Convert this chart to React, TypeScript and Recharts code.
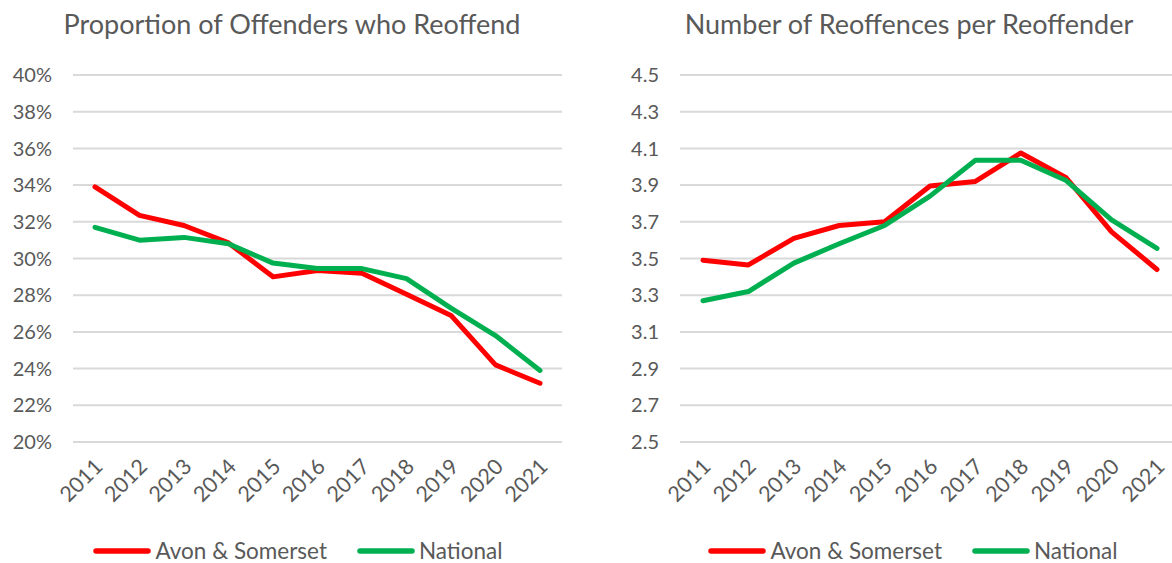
import React from "react";
import { LineChart, Line, XAxis, YAxis, CartesianGrid } from "recharts";

const years = ["2011", "2012", "2013", "2014", "2015", "2016", "2017", "2018", "2019", "2020", "2021"];
const propAvon = [33.9, 32.35, 31.8, 30.85, 29.0, 29.35, 29.2, 28.05, 26.9, 24.2, 23.2];
const propNational = [31.7, 31.0, 31.15, 30.8, 29.75, 29.45, 29.45, 28.9, 27.3, 25.8, 23.9];
const numAvon = [3.49, 3.465, 3.61, 3.68, 3.7, 3.895, 3.92, 4.075, 3.94, 3.645, 3.44];
const numNational = [3.27, 3.32, 3.475, 3.58, 3.68, 3.84, 4.035, 4.035, 3.925, 3.71, 3.555];
const leftTicks = [20, 22, 24, 26, 28, 30, 32, 34, 36, 38, 40];
const rightTicks = [2.5, 2.7, 2.9, 3.1, 3.3, 3.5, 3.7, 3.9, 4.1, 4.3, 4.5];
const leftTitle = "Proportion of Offenders who Reoffend";
const rightTitle = "Number of Reoffences per Reoffender";
const seriesNames = ["Avon & Somerset", "National"];

const RED = "#FF0000";
const GREEN = "#00B050";
const TEXT = "#595959";
const FONT = "Lato, 'Noto Sans', sans-serif";

const leftData = years.map((y, i) => ({ year: y, avon: propAvon[i], national: propNational[i] }));
const rightData = years.map((y, i) => ({ year: y, avon: numAvon[i], national: numNational[i] }));

const RotTick = (props: any) => {
  const { x, y, payload } = props;
  const ex = x + 9;
  const ey = y + 26;
  return (
    <text
      x={ex}
      y={ey}
      transform={`rotate(-45, ${ex}, ${ey})`}
      textAnchor="end"
      fill={TEXT}
      fontSize={21.5}
      fontFamily={FONT}
    >
      {payload.value}
    </text>
  );
};

const LegendBlock = (props: { center: number }) => (
  <div
    style={{
      position: "absolute",
      top: 540,
      left: props.center - 300,
      width: 600,
      height: 22,
      display: "flex",
      justifyContent: "center",
      alignItems: "center",
      fontFamily: FONT,
      fontSize: 22.5,
      lineHeight: "22px",
      color: TEXT,
      whiteSpace: "nowrap",
    }}
  >
    {[RED, GREEN].map((c, i) => (
      <div key={i} style={{ display: "flex", alignItems: "center", marginLeft: i ? 30 : 0 }}>
        <svg width={58} height={10} style={{ marginRight: 4 }}>
          <line x1={3} y1={5} x2={55} y2={5} stroke={c} strokeWidth={5.5} strokeLinecap="round" />
        </svg>
        <span>{seriesNames[i]}</span>
      </div>
    ))}
  </div>
);

const Panel = (props: {
  data: any[];
  ticks: number[];
  domain: [number, number];
  fmt: (v: number) => string;
  yWidth: number;
  width: number;
  rightMargin: number;
  pad: number;
}) => (
  <LineChart
    width={props.width}
    height={563}
    data={props.data}
    margin={{ top: 75, right: props.rightMargin, bottom: 0, left: 0 }}
  >
    <CartesianGrid vertical={false} stroke="#D9D9D9" strokeWidth={2} />
    <XAxis
      dataKey="year"
      scale="point"
      padding={{ left: props.pad, right: props.pad }}
      height={121}
      axisLine={false}
      tickLine={false}
      tickSize={0}
      tickMargin={0}
      interval={0}
      tick={<RotTick />}
    />
    <YAxis
      domain={props.domain}
      ticks={props.ticks}
      width={props.yWidth}
      axisLine={false}
      tickLine={false}
      tickSize={0}
      tickMargin={21}
      tickFormatter={props.fmt}
      tick={{ fill: TEXT, fontSize: 20, fontFamily: FONT }}
      interval={0}
    />
    <Line
      dataKey="avon"
      name={seriesNames[0]}
      stroke={RED}
      strokeWidth={5}
      dot={false}
      strokeLinejoin="round"
      strokeLinecap="round"
      isAnimationActive={false}
    />
    <Line
      dataKey="national"
      name={seriesNames[1]}
      stroke={GREEN}
      strokeWidth={5}
      dot={false}
      strokeLinejoin="round"
      strokeLinecap="round"
      isAnimationActive={false}
    />
  </LineChart>
);

const titleStyle = (center: number): React.CSSProperties => ({
  position: "absolute",
  top: 7,
  left: center - 300,
  width: 600,
  textAlign: "center",
  fontFamily: FONT,
  fontSize: 27,
  color: TEXT,
  lineHeight: "34px",
  whiteSpace: "nowrap",
});

export default function App() {
  return (
    <div
      style={{
        position: "fixed",
        left: 0,
        top: 0,
        width: 1172,
        height: 563,
        overflow: "hidden",
        background: "#fff",
      }}
    >
      <div style={titleStyle(292)}>{leftTitle}</div>
      <div style={titleStyle(909)}>{rightTitle}</div>
      <div style={{ position: "absolute", left: 0, top: 0 }}>
        <Panel
          data={leftData}
          ticks={leftTicks}
          domain={[20, 40]}
          fmt={(v) => `${v}%`}
          yWidth={73}
          width={580}
          rightMargin={18}
          pad={22}
        />
      </div>
      <div style={{ position: "absolute", left: 600, top: 0 }}>
        <Panel
          data={rightData}
          ticks={rightTicks}
          domain={[2.5, 4.5]}
          fmt={(v) => v.toFixed(1)}
          yWidth={80}
          width={600}
          rightMargin={20}
          pad={23}
        />
      </div>
      <LegendBlock center={298} />
      <LegendBlock center={913} />
    </div>
  );
}
